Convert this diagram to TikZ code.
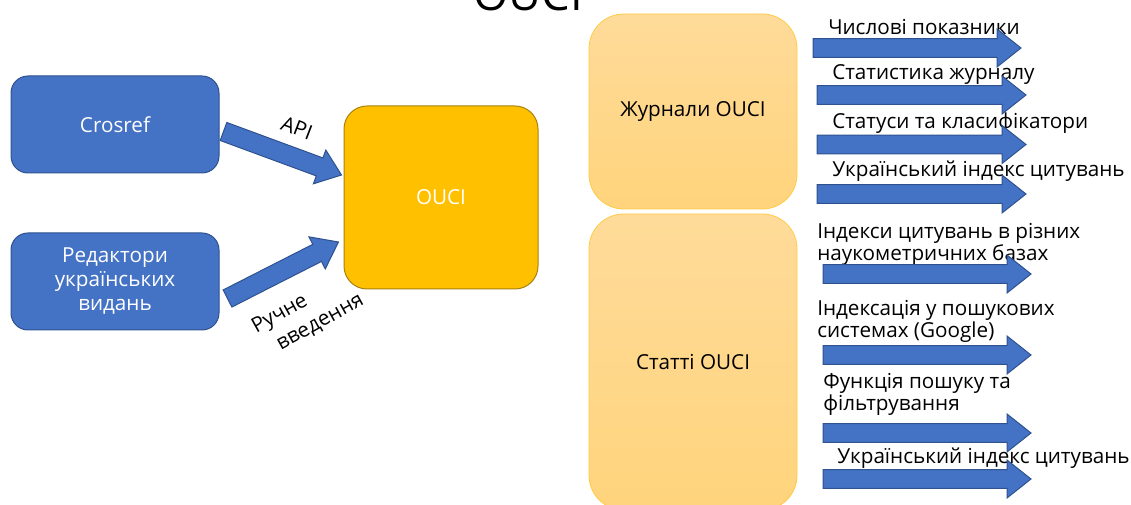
\documentclass[tikz,border=0pt]{standalone}
\usepackage{fontspec}
\setmainfont{Open Sans}
\usetikzlibrary{calc}
\definecolor{bfill}{HTML}{4472C4}
\definecolor{bline}{HTML}{2F528F}
\definecolor{gfill}{HTML}{FFC000}
\definecolor{gline}{HTML}{A8820F}
\definecolor{ltop}{HTML}{FFDB9A}
\definecolor{lbot}{HTML}{FFD47C}
\definecolor{lline}{HTML}{FFCB45}
\newcommand{\blockarrow}[5]{%
  \coordinate (bah) at ($(#2)!#5!(#1)$);
  \filldraw[barrow] ($(#1)!#3!90:(#2)$) -- ($(bah)!#3!90:(#2)$) -- ($(bah)!#4!90:(#2)$) -- (#2) -- ($(bah)!#4!-90:(#2)$) -- ($(bah)!#3!-90:(#2)$) -- ($(#1)!#3!-90:(#2)$) -- cycle;}
\begin{document}
\begin{tikzpicture}[x=0.75pt,y=-0.75pt,
  txt/.style={font=\fontsize{15.5}{16.5}\selectfont},
  bluebox/.style={draw=bline,fill=bfill,line width=0.75pt,rounded corners=12.75pt,minimum width=156pt,minimum height=72.75pt,inner sep=0pt,text=white,align=center,font=\fontsize{15.5}{18}\selectfont},
  goldbox/.style={draw=gline,fill=gfill,line width=0.75pt,rounded corners=17.25pt,minimum width=145.5pt,minimum height=137.25pt,inner sep=0pt,text=white,txt},
  lightbox/.style={draw=lline,top color=ltop,bottom color=lbot,line width=0.6pt,rounded corners=26pt,minimum width=156pt,inner sep=0pt,text=black,txt},
  barrow/.style={draw=bline,fill=bfill,line width=0.75pt},
  lbl/.style={txt,inner sep=0pt,anchor=west,align=left,text=black}]
\useasboundingbox (0,0) rectangle (1131,505);
\clip (0,0) rectangle (1131,505);
% title
\node[font=\fontsize{34}{40}\selectfont,anchor=base,inner sep=0pt] (title) at (528,11) {OUCI};
% left part
\node[bluebox] (crosref) at (115,124.5) {Crosref};
\node[bluebox] (editors) at (115,281.5) {Редактори\\українських\\видань};
\node[goldbox] (ouci) at (441,197.5) {OUCI};
\coordinate (a1s) at ($(crosref.east)+(4,7)$);
\coordinate (a1e) at ($(ouci.west)+(-2,-22.5)$);
\coordinate (a2s) at ($(editors.east)+(8,17)$);
\coordinate (a2e) at ($(ouci.west)+(-5,44.5)$);
\blockarrow{a1s}{a1e}{7.2pt}{13.5pt}{17.5pt}
\blockarrow{a2s}{a2e}{7.2pt}{13.5pt}{18pt}
\node[txt,rotate=-21,inner sep=0pt] (api) at (297,128) {API};
\node[rotate=29,inner sep=0pt,align=left,font=\fontsize{15.5}{20}\selectfont] (manual) at (308,314) {Ручне\\\hspace*{10pt}введення};
% right part
\node[lightbox,minimum height=146.25pt] (jour) at (693,111.5) {Журнали OUCI};
\node[lightbox,minimum height=222pt] (art) at (693,362) {Статті OUCI};
\node[lbl] (l1) at (828,27) {Числові показники};
\node[lbl] (l2) at (832,75) {Статистика журналу};
\node[lbl] (l3) at (832,123) {Статуси та класифікатори};
\node[lbl] (l4) at (832,171) {Український індекс цитувань};
\node[lbl] (l5) at (817,244) {Індекси цитувань в різних\\наукометричних базах};
\node[lbl] (l6) at (817,321) {Індексація у пошукових\\системах (Google)};
\node[lbl] (l7) at (823,394) {Функція пошуку та\\фільтрування};
\node[lbl] (l8) at (837,458) {Український індекс цитувань};
\coordinate (r1s) at (813,48);   \coordinate (r1e) at (1021,48);
\coordinate (r2s) at (817,95);   \coordinate (r2e) at (1026,95);
\coordinate (r3s) at (817,144.5);\coordinate (r3e) at (1026,144.5);
\coordinate (r4s) at (817,194);  \coordinate (r4e) at (1026,194);
\coordinate (r5s) at (823,274);  \coordinate (r5e) at (1031,274);
\coordinate (r6s) at (823,355);  \coordinate (r6e) at (1031,355);
\coordinate (r7s) at (823,433);  \coordinate (r7e) at (1031,433);
\coordinate (r8s) at (823,479);  \coordinate (r8e) at (1031,479);
\foreach \i in {1,...,8}{\blockarrow{r\i s}{r\i e}{7.1pt}{14.25pt}{18pt}}
\end{tikzpicture}
\end{document}
